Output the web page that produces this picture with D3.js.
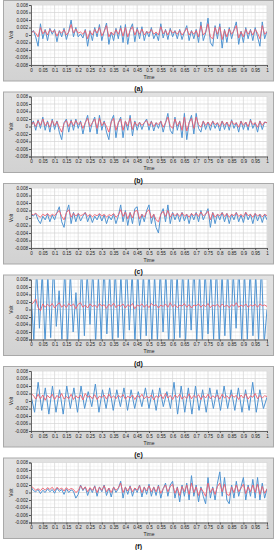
<!DOCTYPE html>
<html><head><meta charset="utf-8">
<script src="https://cdn.jsdelivr.net/npm/d3@7"></script>
<style>body{margin:0;background:#fff}svg{display:block}text{font-family:"Liberation Sans",Arial,sans-serif}</style>
</head><body><svg id="c" width="277" height="550"></svg>
<script>
// values in millivolts (axis labels shown in volts)
const blueA=[0.5,1.2,-0.5,-3.0,3.0,-1.0,1.5,-1.5,1.8,0.2,1.5,-1.8,1.2,-0.5,1.8,-1.2,1.0,4.0,-0.5,2.0,-0.5,0.3,-0.8,1.5,-3.0,1.2,-1.5,2.0,-0.5,2.8,-1.5,1.0,3.2,-2.5,0.8,-1.5,1.8,-1.0,2.5,-2.0,2.8,-2.5,1.5,3.0,-1.8,2.0,-1.0,2.2,-1.5,1.0,-0.5,2.0,-1.0,0.5,-1.5,3.0,-0.8,1.5,-1.2,1.8,-0.5,1.2,-1.0,1.5,-1.2,0.8,2.5,-1.5,1.2,-1.0,1.5,-2.0,3.5,-1.5,0.5,4.5,-2.0,-3.0,2.5,-1.0,3.0,-3.5,1.5,-2.0,2.0,-1.0,1.5,3.5,-2.5,1.0,-2.0,2.0,-1.0,1.5,-1.5,2.0,-0.5,-3.0,3.5,-1.0,1.0];
const redA=[0.5,1.0,0.5,-0.5,2.0,0.3,1.2,0.0,1.5,0.8,1.2,-0.3,1.0,0.5,1.4,0.0,0.8,2.8,0.5,1.6,0.5,0.8,0.2,1.2,-1.0,1.0,0.0,1.5,0.5,2.0,-0.2,0.9,2.5,-0.5,0.8,0.0,1.4,0.2,1.8,-0.3,2.0,-0.5,1.2,2.2,0.0,1.5,0.2,1.6,0.0,0.9,0.5,1.5,0.2,0.8,0.0,2.2,0.3,1.2,0.0,1.4,0.5,1.0,0.2,1.2,0.0,0.8,1.8,0.0,1.0,0.2,1.2,-0.5,2.5,0.0,0.8,3.0,-0.5,-1.0,2.0,0.2,2.2,-1.2,1.2,-0.5,1.6,0.2,1.2,2.5,-0.8,0.9,-0.5,1.5,0.2,1.2,0.0,1.5,0.5,-1.0,2.5,0.2,0.9];
const blueB=[0.0,1.5,-1.0,1.8,-0.5,2.5,-1.0,1.5,-1.5,2.0,-0.8,1.5,-1.5,-3.5,1.0,2.0,-1.5,1.8,-1.0,2.0,-0.5,1.5,-2.0,1.0,3.0,-1.5,1.0,2.5,-2.0,3.0,-1.0,1.5,-1.5,-3.5,1.5,3.0,-3.0,1.0,2.5,-3.0,1.5,-1.0,3.0,-2.5,1.5,-1.0,1.2,-0.8,1.0,2.0,-1.0,1.5,-1.2,1.0,-0.5,1.5,-1.5,1.0,3.5,-1.0,-2.0,2.5,-1.0,1.5,-3.0,3.5,-3.5,1.0,3.0,-2.0,3.5,-0.5,-1.5,1.5,-0.8,1.2,-1.0,1.5,-0.5,1.0,-1.2,1.5,-0.8,1.2,-1.0,1.8,-0.5,1.0,-1.5,1.5,-0.8,1.2,-1.0,2.0,-0.5,1.0,-1.5,1.5,-0.8,1.2,1.0];
const redB=[0.2,1.2,0.0,1.5,0.3,2.0,0.2,1.2,-0.2,1.6,0.2,1.3,-0.2,-1.5,0.8,1.6,0.0,1.5,0.2,1.6,0.5,1.2,-0.5,1.0,2.2,0.0,1.0,2.0,-0.5,2.2,0.2,1.2,0.0,-1.5,1.2,2.2,-1.0,1.0,2.0,-1.0,1.4,0.2,2.2,-0.8,1.2,0.2,1.1,0.3,1.0,1.6,0.2,1.3,0.0,1.0,0.5,1.4,-0.2,1.0,2.5,0.2,-0.5,2.0,0.2,1.3,-1.0,2.5,-1.2,1.0,2.2,-0.5,2.5,0.5,-0.2,1.4,0.3,1.2,0.2,1.4,0.5,1.0,0.0,1.4,0.3,1.2,0.0,1.5,0.5,1.0,-0.2,1.4,0.3,1.2,0.0,1.6,0.5,1.0,-0.2,1.4,0.3,1.2,1.0];
const blueC=[1.0,0.5,1.2,-0.5,-1.5,0.5,-0.5,1.0,-1.0,0.8,-0.5,1.5,3.0,-1.0,-2.5,1.5,3.5,-1.5,1.5,-1.0,1.2,-0.8,0.5,1.5,-1.0,0.8,-1.2,0.5,-0.5,1.0,-0.8,0.8,-1.5,0.5,-0.5,1.0,-1.5,0.5,3.5,-1.0,2.0,-2.0,1.5,-1.5,2.5,3.0,-2.0,1.0,-1.0,2.0,3.5,-1.5,1.0,-2.5,-4.0,1.0,2.5,-1.0,3.5,-1.5,1.5,-0.5,1.2,-1.0,1.5,-0.8,1.0,-1.5,1.2,-0.5,1.5,-1.0,2.0,-0.5,1.0,2.5,-2.5,1.5,-1.5,1.0,-0.5,1.5,-1.0,1.2,-1.5,1.0,-0.5,1.5,-1.0,0.8,-1.2,1.5,-0.5,1.0,-1.5,1.2,-0.8,1.0,-1.2,1.0,-0.5];
const redC=[1.2,0.8,1.3,0.6,0.2,1.0,0.6,1.2,0.4,1.0,0.6,1.4,2.0,0.4,-0.5,1.4,2.2,0.2,1.3,0.5,1.2,0.6,0.9,1.4,0.4,1.0,0.3,0.9,0.6,1.2,0.5,1.0,0.2,0.9,0.6,1.2,0.2,0.8,2.2,0.4,1.6,-0.2,1.4,0.0,1.8,2.0,-0.2,1.0,0.3,1.6,2.2,0.0,1.0,-0.5,-1.0,1.0,1.8,0.4,2.0,0.2,1.3,0.6,1.2,0.4,1.4,0.5,1.0,0.2,1.2,0.6,1.3,0.4,1.6,0.6,1.0,1.8,-0.5,1.4,0.2,1.0,0.6,1.4,0.4,1.2,0.2,1.0,0.6,1.4,0.4,1.0,0.3,1.5,0.6,1.0,0.2,1.2,0.5,1.0,0.3,1.0,0.6];
const blueD=[5.0,-8.5,11,-5.0,10,-9.0,9,-7.5,12,-4.5,5.0,-8.0,11,-9.5,10,-6.0,4.5,-8.5,12,-7.0,10,-4.0,11,-9.0,9,-8.0,12,-6.5,10,-9.0,11,-7.5,9.5,-8.5,12,-5.5,10,-9.0,11,-8.0,10,-7.0,12,-9.0,9.5,-8.5,11,-6.0,10,-9.5,12,-8.0,10,-7.5,11,-9.0,9,-5.5,12,-8.5,10,-9.0,11,-6.5,10,-8.0,12,-9.5,9.5,-7.0,11,-8.5,10,-5.0,12,-9.0,10,-8.0,11,-7.0,9.5,-8.5,12,-9.0,0.0];
const redD=[1.2,1.8,2.8,0.5,-0.3,1.5,0.6,1.4,0.8,1.6,0.4,1.2,1.8,0.6,1.3,0.5,1.6,0.9,1.5,0.2,1.4,1.8,0.6,1.2,0.4,1.5,0.8,1.2,0.5,1.6,0.9,1.3,0.3,1.4,0.8,1.7,0.5,1.2,0.9,1.5,0.4,1.3,0.8,1.6,0.2,1.2,0.9,1.5,0.6,1.3,0.5,1.6,1.0,1.3,0.4,1.2,0.8,1.5,0.6,1.8,0.7,1.3,0.5,1.2,0.9,1.6,0.6,1.3,0.4,1.2,1.0,1.5,0.6,1.3,0.8,1.6,0.5,1.2,0.9,1.4,0.6,1.5,0.8,1.2,0.5,1.3,0.9,1.8,0.6,1.2,0.8,1.5,0.6,1.2,0.9,1.4,0.6,1.5,1.0,1.2,0.8];
const blueE=[1.5,-3.0,5.0,-2.5,3.5,-3.5,4.0,-3.0,3.0,-3.5,4.0,-2.0,3.5,-3.0,4.0,-2.0,2.5,-1.5,4.5,-3.0,3.0,-2.0,3.5,-2.5,3.0,-1.5,3.5,-2.5,3.0,-2.0,2.5,-1.5,3.5,-2.0,3.0,-2.5,3.5,-1.5,2.5,-2.0,5.0,-3.5,4.0,-3.0,3.5,-3.5,4.0,-2.5,3.0,-3.0,3.5,-2.0,3.0,-2.5,4.0,-2.0,3.0,-2.5,3.5,-3.0,3.0,-2.5,5.0,-3.0,3.0,-2.0,1.0];
const redE=[2.0,1.5,0.5,1.8,0.6,1.6,0.2,1.5,0.8,1.8,0.4,1.5,0.8,2.0,0.5,1.2,0.6,1.8,0.4,1.4,0.8,1.6,0.3,2.0,1.0,1.4,0.6,1.7,0.4,1.3,0.9,1.6,0.5,1.8,0.8,1.4,0.6,1.5,1.0,1.7,0.5,1.3,0.8,1.6,0.4,1.5,0.9,1.8,0.6,1.3,0.8,1.6,0.3,1.4,0.9,1.7,0.6,2.0,0.8,1.5,0.4,1.6,0.9,1.8,0.5,1.3,0.7,1.9,0.6,1.5,0.9,1.7,0.4,1.5,0.8,1.8,0.6,1.4,0.9,1.6,0.5,1.8,0.8,1.4,0.6,1.7,1.0,1.5,0.4,1.6,0.8,1.9,0.5,1.4,1.0,2.0,0.6,1.5,0.8,1.4,1.2];
const blueF=[1.5,0.5,0.2,0.8,-0.3,0.6,0.0,1.0,0.2,0.8,-0.2,1.2,0.3,0.8,-0.5,1.0,0.0,0.7,0.3,-1.5,-0.5,2.0,0.5,1.5,-0.8,1.2,0.0,1.8,-1.0,1.5,0.2,2.0,-0.8,1.2,-1.2,1.5,0.0,1.0,3.0,-1.5,1.5,-0.5,1.8,-1.0,1.2,0.0,2.0,-1.2,1.5,-0.5,2.2,-1.0,1.5,-0.8,2.0,-1.5,1.0,2.5,-1.0,2.0,3.0,-1.5,1.5,-2.5,2.0,-1.0,2.5,-2.0,4.5,-1.0,2.0,-2.5,1.5,-1.0,-3.0,4.0,-1.5,1.5,-2.0,2.5,5.5,-1.0,4.0,-2.0,-3.0,2.0,-1.5,3.0,-1.0,1.5,4.0,-2.0,2.0,-1.0,3.5,-1.5,4.0,-2.0,2.5,-1.5,1.0];
const redF=[1.8,1.2,0.6,1.0,0.5,1.2,0.6,1.3,0.8,1.4,0.5,1.4,0.8,1.2,0.4,1.3,0.6,1.1,0.8,0.0,0.5,1.8,0.8,1.5,0.2,1.3,0.6,1.6,0.0,1.4,0.6,1.8,0.2,1.2,0.0,1.4,0.6,1.2,2.5,0.0,1.4,0.4,1.6,0.2,1.2,0.6,1.8,0.0,1.4,0.4,1.8,0.2,1.4,0.2,1.7,-0.2,1.0,2.0,0.2,1.6,2.2,-0.2,1.3,-0.8,1.6,0.2,2.0,-0.5,2.5,0.0,1.5,-0.8,1.2,0.2,-1.0,2.5,0.0,1.2,-0.5,1.6,2.5,0.2,2.2,-0.5,-0.8,1.5,0.0,2.0,0.2,1.2,2.2,-0.3,1.5,0.2,2.0,0.0,2.2,-0.5,1.6,-0.2,1.0];

const xTickValues=[0,0.05,0.1,0.15,0.2,0.25,0.3,0.35,0.4,0.45,0.5,0.55,0.6,0.65,0.7,0.75,0.8,0.85,0.9,0.95,1];
const xTickLabels=["0","0.05","0.1","0.15","0.2","0.25","0.3","0.35","0.4","0.45","0.5","0.55","0.6","0.65","0.7","0.75","0.8","0.85","0.9","0.95","1"];
const yTickValues=[8,6,4,2,0,-2,-4,-6,-8];
const yTickLabels=["0.008","0.006","0.004","0.002","0","-0.002","-0.004","-0.006","-0.008"];
const captions=["(a)","(b)","(c)","(d)","(e)","(f)"];
const blueSeries=[blueA,blueB,blueC,blueD,blueE,blueF];
const redSeries=[redA,redB,redC,redD,redE,redF];

const svg=d3.select("#c");
const defs=svg.append("defs");
const grad=defs.append("linearGradient").attr("id","fg").attr("x1",0).attr("y1",0).attr("x2",0).attr("y2",1);
grad.append("stop").attr("offset","0%").attr("stop-color","#e2e2e2");
grad.append("stop").attr("offset","100%").attr("stop-color","#d2d2d2");

const PL=31, PR=267, PH=60;
const x=d3.scaleLinear().domain([0,1]).range([PL,PR]);
const capLayer=[];

captions.forEach((cap,i)=>{
  const top=5+i*91.5, bottom=top+PH;
  const y=d3.scaleLinear().domain([-8,8]).range([bottom,top]);
  const g=svg.append("g");
  g.append("rect").attr("x",3.5).attr("y",top-4.5).attr("width",270).attr("height",PH+20.5)
    .attr("fill","url(#fg)").attr("stroke","#a9a9a9").attr("stroke-width",1);
  g.append("rect").attr("x",PL).attr("y",top).attr("width",PR-PL).attr("height",PH).attr("fill","#fff");
  const xm=d3.range(0,1.0001,1/60), ym=d3.range(-8,8.001,1);
  g.append("g").selectAll("line").data(xm).join("line")
    .attr("x1",d=>x(d)).attr("x2",d=>x(d)).attr("y1",top).attr("y2",bottom)
    .attr("stroke","#ececec").attr("stroke-width",0.5);
  g.append("g").selectAll("line").data(ym).join("line")
    .attr("x1",PL).attr("x2",PR).attr("y1",d=>y(d)).attr("y2",d=>y(d))
    .attr("stroke","#ececec").attr("stroke-width",0.5);
  g.append("g").selectAll("line").data(xTickValues).join("line")
    .attr("x1",d=>x(d)).attr("x2",d=>x(d)).attr("y1",top).attr("y2",bottom)
    .attr("stroke","#d4d4d4").attr("stroke-width",0.6);
  g.append("g").selectAll("line").data(yTickValues).join("line")
    .attr("x1",PL).attr("x2",PR).attr("y1",d=>y(d)).attr("y2",d=>y(d))
    .attr("stroke","#d4d4d4").attr("stroke-width",0.6);

  const cid="clip"+i;
  defs.append("clipPath").attr("id",cid).append("rect").attr("x",PL).attr("y",top).attr("width",PR-PL).attr("height",PH);
  const lines=g.append("g").attr("clip-path",`url(#${cid})`);
  const mk=arr=>d3.line().x((d,j)=>x(j/(arr.length-1))).y(d=>y(d))(arr);
  lines.append("path").attr("d",mk(blueSeries[i])).attr("fill","none").attr("stroke","#4f94d2").attr("stroke-width",1).attr("stroke-linejoin","round");
  lines.append("path").attr("d",mk(redSeries[i])).attr("fill","none").attr("stroke","#ef5f6e").attr("stroke-width",0.9).attr("stroke-linejoin","round");

  const ax=g.append("g").attr("transform",`translate(${PL},0)`)
    .call(d3.axisLeft(y).tickValues(yTickValues).tickFormat((d,j)=>yTickLabels[j]).tickSize(2).tickPadding(1));
  const bx=g.append("g").attr("transform",`translate(0,${bottom})`)
    .call(d3.axisBottom(x).tickValues(xTickValues).tickFormat((d,j)=>xTickLabels[j]).tickSize(2).tickPadding(1.5));
  [ax,bx].forEach(a=>{
    a.selectAll("text").attr("font-size",4.6).attr("fill","#222").attr("font-family","Liberation Sans, Arial, sans-serif");
    a.selectAll("line").attr("stroke","#555");
    a.select(".domain").attr("stroke","#666");
  });
  g.append("text").attr("x",149).attr("y",bottom+13.5).attr("text-anchor","middle")
    .attr("font-size",5).attr("fill","#222").text("Time");
  g.append("text").attr("transform",`translate(12.5,${(top+bottom)/2}) rotate(-90)`).attr("text-anchor","middle")
    .attr("font-size",5).attr("fill","#222").text("Volt");
  capLayer.push({cap, y: bottom+26});
});
svg.append("g").selectAll("text").data(capLayer).join("text")
  .attr("x",138.5).attr("y",d=>d.y).attr("text-anchor","middle")
  .attr("font-size",7).attr("font-weight","bold").attr("fill","#111").text(d=>d.cap);
</script></body></html>
